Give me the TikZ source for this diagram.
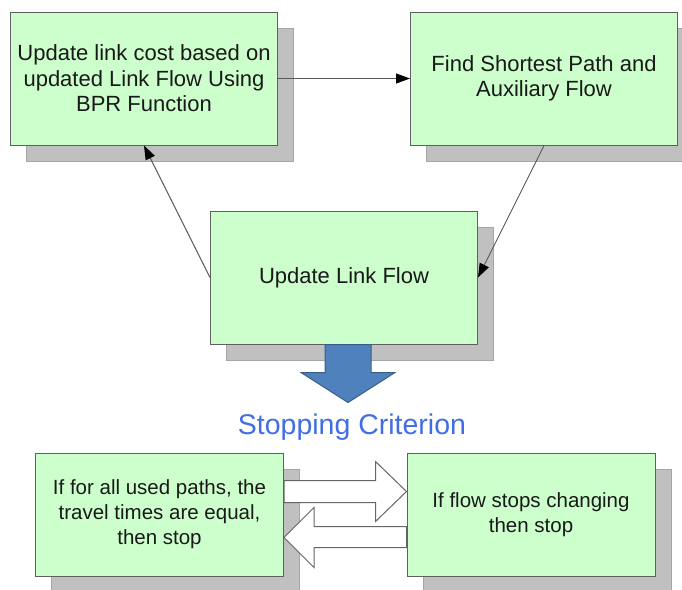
\documentclass[tikz,border=0pt]{standalone}
\usepackage{fontspec}
\setmainfont{Liberation Sans}
\usetikzlibrary{calc,shadows,arrows.meta}
\definecolor{boxgreen}{RGB}{204,255,204}
\definecolor{boxline}{RGB}{96,96,96}
\definecolor{shadegray}{RGB}{192,192,192}
\definecolor{shadeline}{RGB}{165,165,165}
\definecolor{critblue}{RGB}{66,110,228}
\definecolor{arrowblue}{RGB}{79,129,189}
\definecolor{arrowline}{RGB}{56,93,138}
\tikzset{
	stepbox/.style={draw=boxline, fill=boxgreen, line width=1pt, align=center, inner sep=0pt, text=black!90,
		general shadow={fill=shadegray, draw=shadeline, shadow xshift=16pt, shadow yshift=-16pt}},
	bigbox/.style={stepbox, minimum width=267pt, minimum height=133pt, font=\fontsize{22}{25.5}\selectfont},
	smallbox/.style={stepbox, minimum width=248pt, minimum height=123pt, font=\fontsize{20.5}{25}\selectfont},
	link/.style={draw=black!65, line width=0.9pt, -{Triangle[length=14pt,width=10pt,color=black]}},
	hollow/.style={draw=black!60, fill=white, line width=1pt},
}

\begin{document}
\begin{tikzpicture}[x=1pt, y=-1pt]
		%%%%% START %%%%%
		\useasboundingbox (0, 0) rectangle (682, 589);
		
		\node[bigbox] (cost) at (144, 78.5) {Update link cost based on\\updated Link Flow Using\\BPR Function};
		\node[bigbox] (path) at (544, 78.5) {Find Shortest Path and\\Auxiliary Flow};
		\node[bigbox] (flow) at (344, 277.5) {Update Link Flow};
		
		\draw[link] (cost.east) -- (path.west);
		\draw[link] (path.south) -- (flow.east);
		\draw[link] (flow.west) -- (cost.south);
		
		\coordinate (tail) at ($(flow.south)+(4, 0)$);
		\draw[fill=arrowblue, draw=arrowline, line width=1pt] (tail) ++(-23, 0) -- ++(0, 28) -- ++(-24, 0) -- ++(47, 30) -- ++(47, -30) -- ++(-24, 0) -- ++(0, -28) -- cycle;
		
		\node[text=critblue, font=\fontsize{28.5}{30}\selectfont] (crit) at (352, 427) {Stopping Criterion};
		
		\node[smallbox] (equal) at (159.5, 514.5) {If for all used paths, the\\travel times are equal,\\then stop};
		\node[smallbox] (change) at (531, 514.5) {If flow stops changing\\then stop};
		
		\draw[hollow] ($(equal.east)+(0, -34)$) -- ($(change.west)+(-31, -34)$) -- ($(change.west)+(-31, -53)$) -- ($(change.west)+(0, -23)$) -- ($(change.west)+(-31, 7)$) -- ($(change.west)+(-31, -12)$) -- ($(equal.east)+(0, -12)$) -- cycle;
		\draw[hollow] ($(change.west)+(0, 12)$) -- ($(equal.east)+(30, 12)$) -- ($(equal.east)+(30, -7)$) -- ($(equal.east)+(0, 23)$) -- ($(equal.east)+(30, 53)$) -- ($(equal.east)+(30, 33)$) -- ($(change.west)+(0, 33)$) -- cycle;
		
		%%%%% END %%%%%
	\end{tikzpicture}
\end{document}
